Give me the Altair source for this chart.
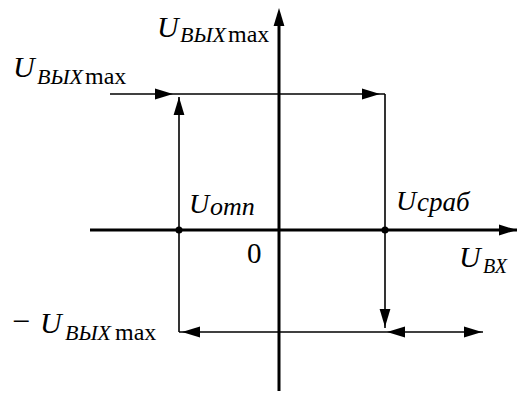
import altair as alt
import pandas as pd

# Coordinate axes (units: arbitrary, origin at 0)
axis_x = [-1.89, 0.00]
axis_x2 = [2.44, 0.00]
axis_y = [0.00, -1.69]
axis_y2 = [0.00, 2.15]

# Hysteresis loop segments
loop_x = [-1.69, 1.06, -1.00, -1.00]
loop_x2 = [1.06, 1.06, 2.04, -1.00]
loop_y = [1.36, 1.36, -1.02, -1.02]
loop_y2 = [1.36, -0.98, -1.02, 1.33]

# Arrow heads (center positions, direction angle in degrees)
arrow_x = [-1.15, 0.92, 0.00, -1.00, 1.06, -0.88, 1.17, 1.94, 2.29]
arrow_y = [1.36, 1.36, 2.13, 1.24, -0.88, -1.02, -1.02, -1.02, 0.00]
arrow_angle = [0, 0, 270, 270, 90, 180, 180, 0, 0]

# Threshold points U_отп and U_сраб
dot_x = [-1.00, 1.06]
dot_y = [0.00, 0.00]

# Italic text pieces
it_text = ["U", "ВЫХ", "U", "ВЫХ", "U", "ВЫХ", "U", "отп", "U", "сраб", "U", "ВХ"]
it_x = [-1.22, -0.99, -2.66, -2.42, -2.39, -2.14, -0.90, -0.69, 1.17, 1.38, 1.80, 2.04]
it_y = [1.93, 1.88, 1.53, 1.46, -1.03, -1.10, 0.17, 0.15, 0.20, 0.19, -0.37, -0.43]
it_size = [30, 22, 30, 22, 30, 22, 28, 26, 28, 27, 30, 20]

# Upright text pieces
up_text = ["max", "max", "max", "−", "0"]
up_x = [-0.51, -1.94, -1.64, -2.67, -0.32]
up_y = [1.88, 1.46, -1.10, -1.02, -0.33]
up_size = [24, 24, 24, 32, 29]

xs = alt.Scale(domain=[-2.71, 2.38], nice=False, zero=False)
ys = alt.Scale(domain=[-1.61, 2.22], nice=False, zero=False)

axes_df = pd.DataFrame({"x": axis_x, "x2": axis_x2, "y": axis_y, "y2": axis_y2})
loop_df = pd.DataFrame({"x": loop_x, "x2": loop_x2, "y": loop_y, "y2": loop_y2})
arrow_df = pd.DataFrame({"x": arrow_x, "y": arrow_y, "angle": arrow_angle})
dot_df = pd.DataFrame({"x": dot_x, "y": dot_y})
it_df = pd.DataFrame({"t": it_text, "x": it_x, "y": it_y, "s": it_size})
up_df = pd.DataFrame({"t": up_text, "x": up_x, "y": up_y, "s": up_size})

X = alt.X("x:Q", scale=xs, axis=None)
Y = alt.Y("y:Q", scale=ys, axis=None)

axes = alt.Chart(axes_df).mark_rule(color="black", strokeWidth=3).encode(
    x=X, x2="x2:Q", y=Y, y2="y2:Q")
loop = alt.Chart(loop_df).mark_rule(color="black", strokeWidth=1.6).encode(
    x=X, x2="x2:Q", y=Y, y2="y2:Q")
arrows = alt.Chart(arrow_df).mark_point(
    shape="M-1,-0.6L1,0L-1,0.6Z", filled=True, color="black", opacity=1, size=324
).encode(x=X, y=Y, angle=alt.Angle("angle:Q", scale=None))
dots = alt.Chart(dot_df).mark_circle(color="black", opacity=1, size=50).encode(x=X, y=Y)
it_txt = alt.Chart(it_df).mark_text(
    font="Liberation Serif, Times New Roman, serif", fontStyle="italic",
    align="left", baseline="alphabetic", color="black"
).encode(x=X, y=Y, text="t:N", size=alt.Size("s:Q", scale=None))
up_txt = alt.Chart(up_df).mark_text(
    font="Liberation Serif, Times New Roman, serif",
    align="left", baseline="alphabetic", color="black"
).encode(x=X, y=Y, text="t:N", size=alt.Size("s:Q", scale=None))

chart = alt.layer(axes, loop, arrows, dots, it_txt, up_txt).properties(
    width=509, height=383, padding=0, autosize="none", background="white"
).configure_view(stroke=None)

chart.save("out.html", embed_options={"renderer": "svg", "actions": False})
